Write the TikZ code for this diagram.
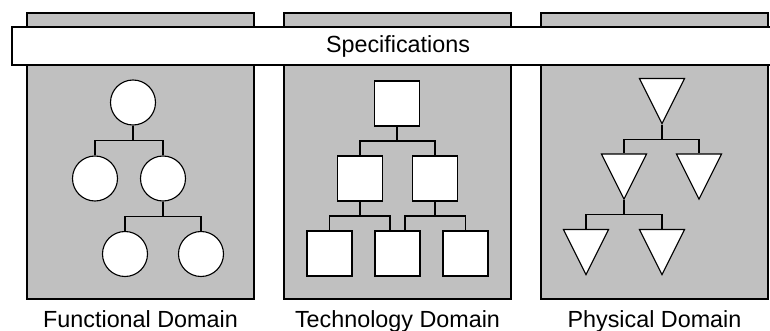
\documentclass[tikz,border=0pt]{standalone}
\usepackage{fontspec}
\setmainfont{Liberation Sans}
\usepackage{xcolor}
\usepackage{tikz}
\usetikzlibrary{shapes.geometric, positioning, calc}

\definecolor{panelgray}{RGB}{192,192,192}

\begin{document}
\begin{tikzpicture}[x=0.25mm, y=-0.25mm,
        font=\fontsize{16.6pt}{19pt}\selectfont,
        panel/.style={
                draw=black,
                fill=panelgray,
                line width=0.85pt,
                inner sep=0pt,
                minimum width=56.75mm,
                minimum height=71.5mm,
        },
        specbar/.style={
                draw=black,
                fill=white,
                line width=0.85pt,
                minimum width=193mm,
                minimum height=9.5mm,
        },
        domainlabel/.style={inner sep=0pt},
        item/.style={
                draw=black,
                fill=white,
                line width=0.8pt,
                inner sep=0pt,
        },
        fun/.style={item, circle, minimum size=11.25mm},
        tech/.style={item, rectangle, minimum size=11.25mm},
        phys/.style={item, isosceles triangle, isosceles triangle stretches,
                shape border rotate=270, minimum width=11.25mm, minimum height=11.25mm, anchor=apex},
        link/.style={line width=0.8pt},
        branch/.style={to path={(\tikztostart) |- ($(\tikztostart)!.5!(\tikztotarget)$) -| (\tikztotarget)}},
    ]
            \clip (0, 0) rectangle (770, 331);

            % the three domains
            \node[panel] (funpanel) at (140.5, 156) {};
            \node[panel] (techpanel) at (397.5, 156) {};
            \node[panel] (physpanel) at (654.5, 156) {};
            \node[domainlabel, below=2.6mm of funpanel] (funlabel) {Functional Domain};
            \node[domainlabel, below=2.6mm of techpanel] (techlabel) {Technology Domain};
            \node[domainlabel, below=2.6mm of physpanel] (physlabel) {Physical Domain};

            \node[specbar] (spec) at (398, 46) {Specifications};

            % functional tree
            \node[fun] (f1) at (133, 102.5) {};
            \node[fun] (f2) at (95, 178.5) {};
            \node[fun] (f3) at (163, 178.5) {};
            \node[fun] (f4) at (125, 254) {};
            \node[fun] (f5) at (201, 254) {};
            \draw[link] (f1.south) to[branch] (f2.north);
            \draw[link] (f1.south) to[branch] (f3.north);
            \draw[link] (f3.south) to[branch] (f4.north);
            \draw[link] (f3.south) to[branch] (f5.north);

            % technology tree
            \node[tech] (t1) at (397, 103.5) {};
            \node[tech] (t2) at (360, 178.5) {};
            \node[tech] (t3) at (435, 178.5) {};
            \node[tech] (t4) at (329.5, 253.5) {};
            \node[tech] (t5) at (397.5, 253.5) {};
            \node[tech] (t6) at (465.5, 253.5) {};
            \coordinate (t5a) at ($(t5.north)+(-7.5, 0)$);
            \coordinate (t5b) at ($(t5.north)+(7.5, 0)$);
            \draw[link] (t1.south) to[branch] (t2.north);
            \draw[link] (t1.south) to[branch] (t3.north);
            \draw[link] (t2.south) to[branch] (t4.north);
            \draw[link] (t2.south) to[branch] (t5a);
            \draw[link] (t3.south) to[branch] (t5b);
            \draw[link] (t3.south) to[branch] (t6.north);

            % physical tree
            \node[phys] (p1) at (662, 125) {};
            \node[phys] (p2) at (624, 200.5) {};
            \node[phys] (p3) at (699, 200.5) {};
            \node[phys] (p4) at (586, 276) {};
            \node[phys] (p5) at (662, 276) {};
            \draw[link] (p1.apex) to[branch] (p2.lower side);
            \draw[link] (p1.apex) to[branch] (p3.lower side);
            \draw[link] (p2.apex) to[branch] (p4.lower side);
            \draw[link] (p2.apex) to[branch] (p5.lower side);
        \end{tikzpicture}
\end{document}
